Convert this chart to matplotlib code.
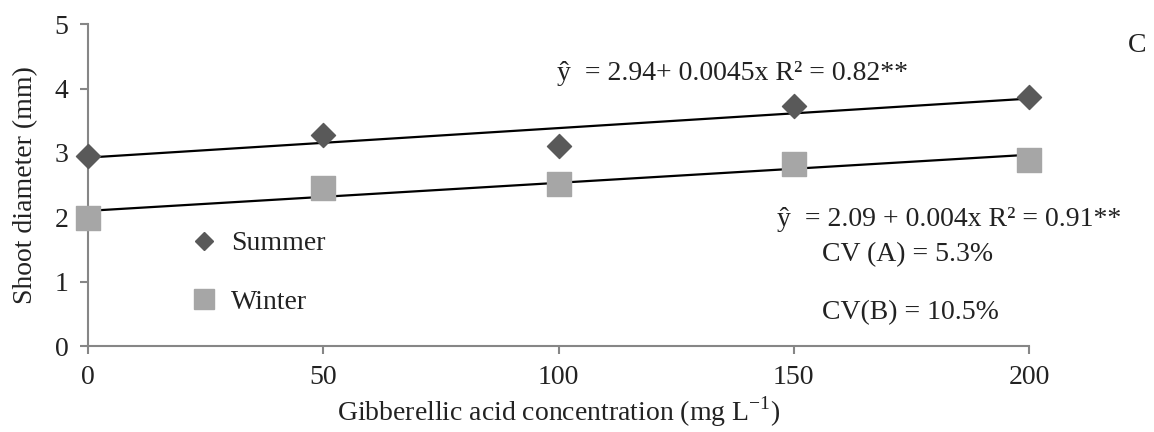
import numpy as np
import matplotlib
matplotlib.use("Agg")
import matplotlib.pyplot as plt
from matplotlib.lines import Line2D

plt.rcParams['font.family'] = ['Liberation Serif', 'DejaVu Serif']

conc = [0, 50, 100, 150, 200]
summer = [2.95, 3.28, 3.10, 3.73, 3.87]
winter = [1.99, 2.45, 2.52, 2.83, 2.89]
xticks = [0, 50, 100, 150, 200]
yticks = [0, 1, 2, 3, 4, 5]

FS = 20
fig = plt.figure(figsize=(11.54, 4.32), dpi=100)
ax = fig.add_axes([0.0763, 0.199, 0.8154, 0.745])

x = np.array(conc, dtype=float)
xl = np.array([0, 200], dtype=float)
for ys in (summer, winter):
    b, a = np.polyfit(x, np.array(ys), 1)
    ax.plot(xl, a + b * xl, color='black', lw=1.6, zorder=2)

ax.scatter(conc, summer, marker='D', s=150, color='#595959', zorder=3, clip_on=False)
ax.scatter(conc, winter, marker='s', s=300, color='#A6A6A6', zorder=3, clip_on=False)

ax.set_xlim(0, 200)
ax.set_ylim(0, 5)
ax.set_xticks(xticks)
ax.set_yticks(yticks)
for s in ('top', 'right'):
    ax.spines[s].set_visible(False)
for s in ('left', 'bottom'):
    ax.spines[s].set_color('#868686')
    ax.spines[s].set_linewidth(1.5)
ax.tick_params(axis='both', colors='#868686', width=1.5, length=6, labelsize=FS,
               labelcolor='#222222', direction='out')
ax.tick_params(axis='x', pad=8)
ax.tick_params(axis='y', pad=8)

ax.set_xlabel('Gibberellic acid concentration (mg L$^{\\mathregular{-1}}$)', fontsize=FS,
              color='#222222', labelpad=3)
ax.set_ylabel('Shoot diameter (mm)', fontsize=FS, color='#222222', labelpad=12)

handles = [Line2D([], [], marker='D', ls='none', color='#595959', markersize=9),
           Line2D([], [], marker='s', ls='none', color='#A6A6A6', markersize=14)]
ax.legend(handles, ['Summer', 'Winter'], loc='center left', bbox_to_anchor=(0.106, 0.227),
          frameon=False, fontsize=FS, labelspacing=1.2, handlelength=1.2,
          handletextpad=0.35, borderpad=0, borderaxespad=0, labelcolor='#222222')

kw = dict(fontsize=FS, color='#222222', va='center', ha='left')
fig.text(557 / 1154, 1 - 74 / 432, 'ŷ  = 2.94+ 0.0045x R² = 0.82**', **kw)
fig.text(777 / 1154, 1 - 219 / 432, 'ŷ  = 2.09 + 0.004x R² = 0.91**', **kw)
fig.text(822 / 1154, 1 - 255 / 432, 'CV (A) = 5.3%', **kw)
fig.text(822 / 1154, 1 - 313 / 432, 'CV(B) = 10.5%', **kw)
fig.text(1128 / 1154, 1 - 46 / 432, 'C', **kw)

fig.savefig('out.png', dpi=100)
